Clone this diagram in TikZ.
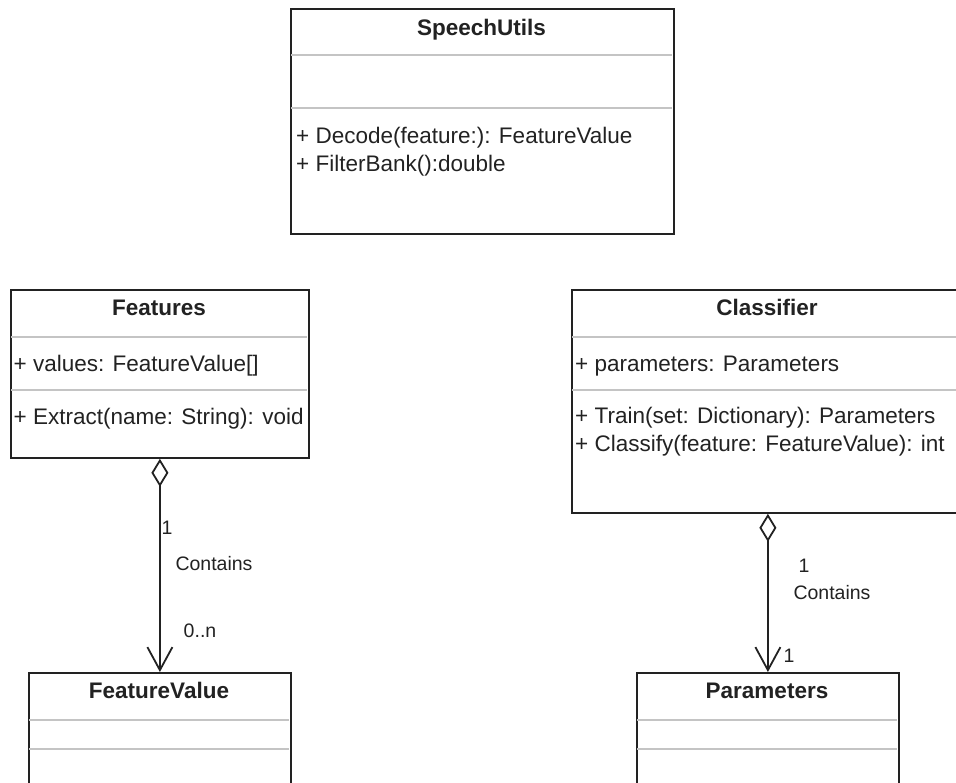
\documentclass[tikz,border=0pt]{standalone}
\usepackage{fontspec}
\setmainfont{Liberation Sans}
\usetikzlibrary{arrows.meta}
\definecolor{ink}{HTML}{222222}
\definecolor{rulegray}{HTML}{C4C4C4}
\begin{document}
\begin{tikzpicture}[x=1pt,y=-1pt,
  classbox/.style={draw=ink,line width=1.8pt,fill=white,anchor=north west,inner sep=0pt},
  divider/.style={draw=rulegray,line width=1.8pt},
  title/.style={font=\fontsize{22.5}{27}\selectfont\bfseries,text=ink,anchor=base,inner sep=0pt},
  member/.style={font=\fontsize{22.5}{27}\selectfont,text=ink,anchor=base west,inner sep=0pt},
  mult/.style={font=\fontsize{19.5}{23}\selectfont,text=ink,anchor=base,inner sep=0pt},
  assoc/.style={draw=ink,line width=1.8pt,
    {Diamond[open,fill=white,length=28pt,width=17pt]}-{Straight Barb[length=23pt,width=25pt]}}
]
\useasboundingbox[fill=white] (0,0) rectangle (956,782);

% ---- SpeechUtils ----
\node[classbox,minimum width=383pt,minimum height=225pt] (speech) at (290,8) {};
\draw[divider] (291,55) -- (672,55);
\draw[divider] (291,108) -- (672,108);
\node[title] (speechT) at (481.5,35) {SpeechUtils};
\node[member] (speechOp1) at (296,143) {+ Decode(feature:): FeatureValue};
\node[member] (speechOp2) at (296,171) {+ FilterBank():double};

% ---- Features ----
\node[classbox,minimum width=298pt,minimum height=168pt] (features) at (10,289) {};
\draw[divider] (11,337) -- (307,337);
\draw[divider] (11,390) -- (307,390);
\node[title] (featuresT) at (159,315) {Features};
\node[member] (featuresAt) at (13.5,371) {+ values: FeatureValue[]};
\node[member] (featuresOp) at (13.5,424) {+ Extract(name: String): void};

% ---- Classifier ----
\node[classbox,minimum width=392pt,minimum height=223pt] (classifier) at (571,289) {};
\draw[divider] (572,337) -- (962,337);
\draw[divider] (572,390) -- (962,390);
\node[title] (classifierT) at (767,315) {Classifier};
\node[member] (classifierAt) at (575,371) {+ parameters: Parameters};
\node[member] (classifierOp1) at (575,423) {+ Train(set: Dictionary): Parameters};
\node[member] (classifierOp2) at (575,451) {+ Classify(feature: FeatureValue): int};

% ---- FeatureValue ----
\node[classbox,minimum width=262pt,minimum height=130pt] (fvalue) at (28,672) {};
\draw[divider] (29,720) -- (289,720);
\draw[divider] (29,749) -- (289,749);
\node[title] (fvalueT) at (159,698) {FeatureValue};

% ---- Parameters ----
\node[classbox,minimum width=262pt,minimum height=130pt] (params) at (636,672) {};
\draw[divider] (637,720) -- (897,720);
\draw[divider] (637,749) -- (897,749);
\node[title] (paramsT) at (767,698) {Parameters};

% ---- aggregations ----
\draw[assoc] (features.south) -- (fvalue.north);
\node[mult] (fSrc) at (167,534) {1};
\node[mult] (fName) at (214,570) {Contains};
\node[mult] (fDst) at (200,637) {0..n};

\draw[assoc] (classifier.south) -- (params.north);
\node[mult] (cSrc) at (804,572) {1};
\node[mult] (cName) at (832,599) {Contains};
\node[mult] (cDst) at (789,662) {1};
\end{tikzpicture}
\end{document}
